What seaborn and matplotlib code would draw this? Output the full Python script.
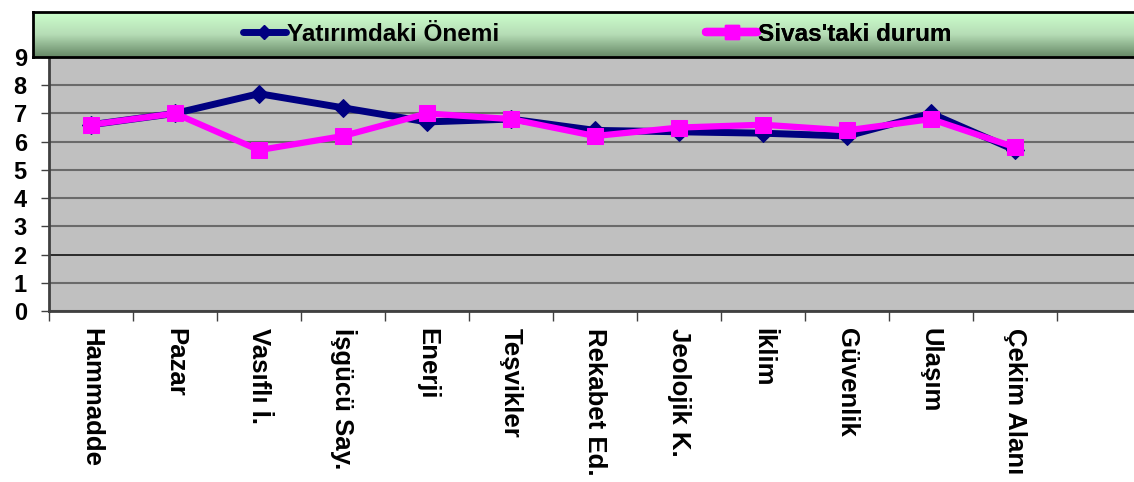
import numpy as np
import pandas as pd
import matplotlib
matplotlib.use("Agg")
import matplotlib.pyplot as plt
import seaborn as sns
from matplotlib.lines import Line2D

# Datos
kategoriler = ["Hammadde", "Pazar", "Vasıflı İ.", "İşgücü Say.", "Enerji", "Teşvikler",
               "Rekabet Ed.", "Jeolojik K.", "İklim", "Güvenlik", "Ulaşım", "Çekim Alanı"]
yatirim_onemi = [6.6, 7.0, 7.7, 7.2, 6.7, 6.8, 6.4, 6.35, 6.3, 6.2, 7.0, 5.7]
sivas_durum = [6.6, 7.0, 5.7, 6.2, 7.0, 6.8, 6.2, 6.5, 6.6, 6.4, 6.8, 5.8]
seri_adlari = ["Yatırımdaki Önemi", "Sivas'taki durum"]
y_ticks = list(range(0, 10))

df = pd.DataFrame({
    "idx": list(range(len(kategoriler))) * 2,
    "deger": yatirim_onemi + sivas_durum,
    "seri": [seri_adlari[0]] * len(kategoriler) + [seri_adlari[1]] * len(kategoriler),
})

sns.set_style("white")
plt.rcParams['font.family'] = ['Liberation Sans', 'DejaVu Sans']
plt.rcParams['text.color'] = 'black'
plt.rcParams['xtick.color'] = 'black'
plt.rcParams['ytick.color'] = 'black'

fig = plt.figure(figsize=(11.34, 4.82), dpi=100)
W, H = 1134, 482
ax = fig.add_axes([49 / W, 1 - 311 / H, (1141 - 49) / W, (311 - 57) / H])
ax.set_facecolor("#c0c0c0")

renkler = {seri_adlari[0]: "#000080", seri_adlari[1]: "#ff00ff"}
sns.lineplot(data=df[df.seri == seri_adlari[0]], x="idx", y="deger", ax=ax,
             color=renkler[seri_adlari[0]], lw=5, marker="D", markersize=9,
             markeredgecolor=renkler[seri_adlari[0]], sort=False, legend=False)
sns.lineplot(data=df[df.seri == seri_adlari[1]], x="idx", y="deger", ax=ax,
             color=renkler[seri_adlari[1]], lw=4.5, marker="s", markersize=11,
             markeredgecolor=renkler[seri_adlari[1]], sort=False, legend=False)

ax.set_xlim(-0.5, 12.5)
ax.set_ylim(0, 9)
ax.set_xticks(np.arange(-0.5, 13, 1))
ax.set_xticklabels([])
ax.set_xticks(range(len(kategoriler)), minor=True)
ax.set_xticklabels(kategoriler, minor=True, rotation=-90, fontsize=18.5,
                   fontweight="bold", va="top", ha="center")
ax.tick_params(axis="x", which="minor", length=0, pad=12)
ax.tick_params(axis="x", which="major", length=7, width=1, color="#404040", direction="out", bottom=True)
ax.set_yticks(y_ticks)
ax.set_yticklabels([str(t) for t in y_ticks], fontsize=17, fontweight="bold")
ax.tick_params(axis="y", length=6, width=1, color="#404040", direction="out", left=True, pad=10)
ax.grid(axis="y", color="#6a6a6a", lw=1.5)
ax.get_ygridlines()[2].set_color("#111111")
ax.get_ygridlines()[2].set_linewidth(1.2)
ax.set_axisbelow(True)
ax.set_xlabel("")
ax.set_ylabel("")
for s in ["top", "right"]:
    ax.spines[s].set_visible(False)
ax.spines["left"].set_color("#404040")
ax.spines["left"].set_linewidth(2)
ax.spines["bottom"].set_color("#404040")
ax.spines["bottom"].set_linewidth(2)

# Lejant kutusu (yesil gecisli)
lx0, lx1 = 33, 1140
lax = fig.add_axes([lx0 / W, 1 - 57 / H, (lx1 - lx0) / W, 45 / H])
grad = np.linspace(0, 1, 100).reshape(-1, 1)
cmap = matplotlib.colors.LinearSegmentedColormap.from_list("g", ["#ccffcc", "#b5dcb5", "#668866"])
lax.imshow(grad, aspect="auto", cmap=cmap, extent=[0, 1, 0, 1], origin="upper")
lax.set_xticks([])
lax.set_yticks([])
for s in lax.spines.values():
    s.set_linewidth(2)
    s.set_color("black")
handles = [Line2D([], [], color=renkler[seri_adlari[0]], lw=5, marker="D", markersize=7),
           Line2D([], [], color=renkler[seri_adlari[1]], lw=6, marker="s", markersize=10)]
starts = [243, 706]
hlens = [1.75, 2.1]
for h, name, st, hl in zip(handles, seri_adlari, starts, hlens):
    leg = lax.legend([h], [name], frameon=False, loc="center left",
                     bbox_to_anchor=((st - lx0) / (lx1 - lx0), 0.5), borderpad=0, borderaxespad=0,
                     prop={"weight": "bold", "size": 17.5}, handlelength=hl, handletextpad=0.05)
    lax.add_artist(leg)

fig.savefig("out.png", dpi=100)
